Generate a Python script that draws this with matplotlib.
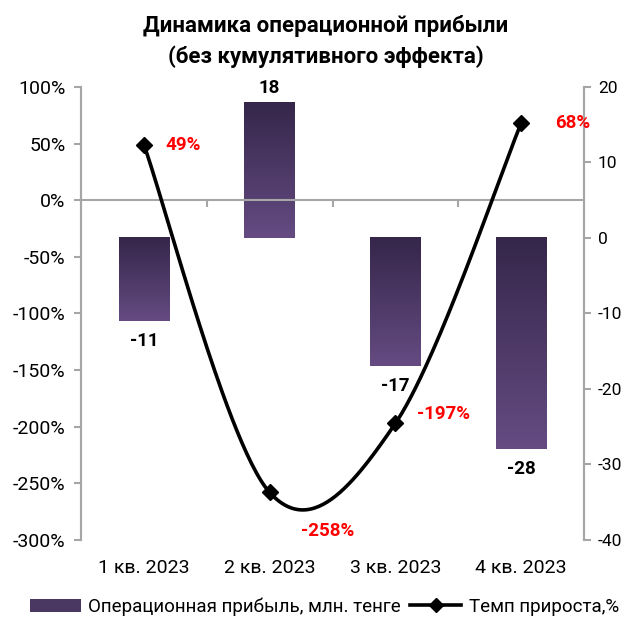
import numpy as np
import matplotlib.pyplot as plt
from matplotlib.colors import LinearSegmentedColormap
from matplotlib.patches import Patch
from matplotlib.lines import Line2D

plt.rcParams['font.family'] = ['Roboto', 'DejaVu Sans']
plt.rcParams['axes.unicode_minus'] = False

quarters = ['1 кв. 2023', '2 кв. 2023', '3 кв. 2023', '4 кв. 2023']
profit = [-11, 18, -17, -28]          # млн. тенге (правая ось)
growth = [49, -258, -197, 68]         # % (левая ось)
profit_labels = ['-11', '18', '-17', '-28']
growth_labels = ['49%', '-258%', '-197%', '68%']

gray = '#a6a6a6'
top_col = '#35264a'
bot_col = '#654b82'

fig = plt.figure(figsize=(6.3, 6.17), dpi=100)
ax = fig.add_axes([0.1286, 0.1248, 0.7984, 0.7342])
ax2 = ax.twinx()

x = np.arange(len(quarters))

# bars on the right axis with vertical gradient
bars = ax2.bar(x, profit, width=0.4, color='none', edgecolor='none')
cmap = LinearSegmentedColormap.from_list('g', [bot_col, top_col])
grad = np.linspace(0, 1, 256).reshape(-1, 1)
for b in bars:
    x0, w = b.get_x(), b.get_width()
    y0, h = b.get_y(), b.get_height()
    ylo, yhi = min(y0, y0 + h), max(y0, y0 + h)
    ax2.imshow(grad, extent=[x0, x0 + w, ylo, yhi], origin='lower',
               aspect='auto', cmap=cmap, zorder=2)

ax2.set_ylim(-40, 20)
ax2.set_yticks(range(-40, 21, 10))
ax2.set_xlim(-0.5, 3.5)

for xi, v, lab in zip(x, profit, profit_labels):
    if v >= 0:
        ax2.text(xi, v + 0.7, lab, ha='center', va='bottom', fontsize=13.5,
                 fontweight='bold')
    else:
        ax2.text(xi, v - 1.4, lab, ha='center', va='top', fontsize=13.5,
                 fontweight='bold')

# smooth line on the left axis (Catmull-Rom through the points)
px = np.concatenate([[x[0]], x, [x[-1]]]).astype(float)
py = np.concatenate([[growth[0]], growth, [growth[-1]]]).astype(float)
cx, cy = [], []
t = np.linspace(0, 1, 60)
for i in range(1, len(px) - 2):
    m0x = (px[i + 1] - px[i - 1]) / 2
    m0y = (py[i + 1] - py[i - 1]) / 2
    m1x = (px[i + 2] - px[i]) / 2
    m1y = (py[i + 2] - py[i]) / 2
    h00 = 2 * t**3 - 3 * t**2 + 1
    h10 = t**3 - 2 * t**2 + t
    h01 = -2 * t**3 + 3 * t**2
    h11 = t**3 - t**2
    cx.extend(h00 * px[i] + h10 * m0x + h01 * px[i + 1] + h11 * m1x)
    cy.extend(h00 * py[i] + h10 * m0y + h01 * py[i + 1] + h11 * m1y)
ax.plot(cx, cy, color='black', lw=2.6, zorder=3, solid_capstyle='round')
ax.plot(x, growth, linestyle='none', marker='D', color='black',
        markersize=8, zorder=4)

ax.set_ylim(-300, 100)
ax.set_yticks(range(-300, 101, 50))
ax.set_yticklabels([f'{v}%' for v in range(-300, 101, 50)])
ax.set_xlim(-0.5, 3.5)
ax.axhline(0, color=gray, lw=1.5, zorder=1)

offs = [(0.17, 0, 'left', 'center'), (0.46, -34, 'center', 'center'),
        (0.17, 8, 'left', 'center'), (0.27, 0, 'left', 'center')]
for xi, v, lab, (dx, dy, ha, va) in zip(x, growth, growth_labels, offs):
    ax.text(xi + dx, v + dy, lab, color='#ff0000', fontsize=13.5,
            fontweight='bold', ha=ha, va=va, zorder=5)

ax.set_zorder(ax2.get_zorder() + 1)
ax.patch.set_visible(False)

# category axis
ax.set_xticks(x)
ax.set_xticklabels(quarters, fontsize=14)
ax.tick_params(axis='x', length=0, pad=14)
for a in (ax, ax2):
    a.spines['top'].set_visible(False)
    a.spines['bottom'].set_visible(False)
    a.spines['left'].set_color(gray)
    a.spines['right'].set_color(gray)
    a.spines['left'].set_linewidth(1.5)
    a.spines['right'].set_linewidth(1.5)
ax.tick_params(axis='y', colors=gray, labelcolor='black', labelsize=14,
               length=5, width=1.5, direction='out', pad=6)
ax2.tick_params(axis='y', colors=gray, labelcolor='black', labelsize=12.5,
                length=5, width=1.5, direction='out', pad=5)

sec = ax.secondary_xaxis(0.75)
sec.set_xticks([0.5, 1.5, 2.5])
sec.set_xticklabels([])
sec.xaxis.set_ticks_position('bottom')
sec.tick_params(length=5, width=1.5, colors=gray, direction='out')
for s in sec.spines.values():
    s.set_visible(False)

fig.text(0.517, 0.958, 'Динамика операционной прибыли', ha='center',
         va='center', fontsize=16, fontweight='bold')
fig.text(0.517, 0.908, '(без кумулятивного эффекта)', ha='center',
         va='center', fontsize=16, fontweight='bold')

handles = [Patch(facecolor='#4a3863', edgecolor='none'),
           Line2D([0], [0], color='black', lw=2.6, marker='D', markersize=7)]
fig.legend(handles, ['Операционная прибыль, млн. тенге', 'Темп прироста,%'],
           loc='center', bbox_to_anchor=(0.515, 0.017), ncol=2, frameon=False,
           fontsize=13.5, handlelength=2.7, columnspacing=0.5,
           handletextpad=0.4, borderaxespad=0, borderpad=0)

fig.savefig('out.png', dpi=100)
